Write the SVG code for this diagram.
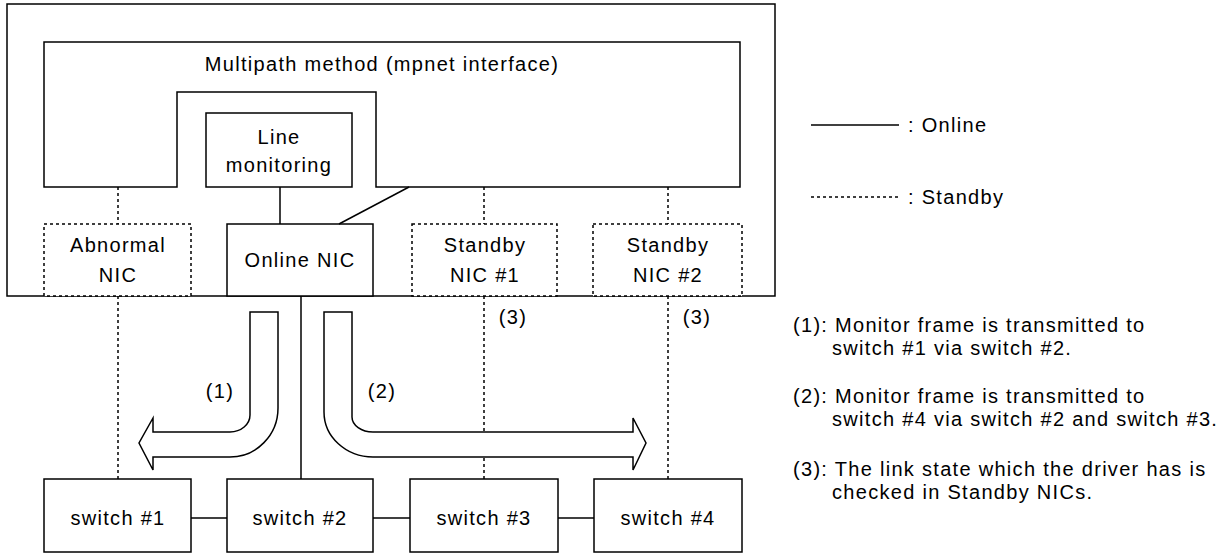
<svg xmlns="http://www.w3.org/2000/svg" width="1229" height="554" viewBox="0 0 1229 554">
<style>
  text { font-family: "Liberation Sans", Arial, sans-serif; font-size: 20px; letter-spacing: 1.3px; fill: #000; }
  .c { text-anchor: middle; }
  .solid { fill: #fff; stroke: #000; stroke-width: 1.5; }
  .dash { fill: #fff; stroke: #000; stroke-width: 1.5; stroke-dasharray: 3 3; }
  .ln { fill: none; stroke: #000; stroke-width: 1.5; }
  .dl { fill: none; stroke: #000; stroke-width: 1.5; stroke-dasharray: 3 3; }
</style>
<rect x="0" y="0" width="1229" height="554" fill="#fff"/>
<g id="host">
  <rect class="solid" x="7" y="4" width="768" height="292"/>
</g>
<g id="mpnet">
  <path class="solid" d="M44 42 H740 V187 H376 V92 H177 V187 H44 Z"/>
  <text class="c" x="382" y="71">Multipath method (mpnet interface)</text>
</g>
<g id="line-monitoring">
  <rect class="solid" x="206" y="113" width="146" height="74"/>
  <text class="c" x="279" y="144">Line</text>
  <text class="c" x="279" y="172">monitoring</text>
</g>
<g id="abnormal-nic">
  <rect class="dash" x="44" y="224" width="147" height="72"/>
  <text class="c" x="118" y="252">Abnormal</text>
  <text class="c" x="118" y="282">NIC</text>
</g>
<g id="online-nic">
  <rect class="solid" x="227" y="224" width="146" height="72"/>
  <text class="c" x="300" y="267">Online NIC</text>
</g>
<g id="standby-nic-1">
  <rect class="dash" x="412" y="224" width="145" height="72"/>
  <text class="c" x="485" y="252">Standby</text>
  <text class="c" x="485" y="282">NIC #1</text>
</g>
<g id="standby-nic-2">
  <rect class="dash" x="593" y="224" width="149" height="72"/>
  <text class="c" x="668" y="252">Standby</text>
  <text class="c" x="668" y="282">NIC #2</text>
</g>
<g id="switch-1">
  <rect class="solid" x="44" y="479" width="147" height="73"/>
  <text class="c" x="118" y="525">switch #1</text>
</g>
<g id="switch-2">
  <rect class="solid" x="227" y="479" width="146" height="73"/>
  <text class="c" x="300" y="525">switch #2</text>
</g>
<g id="switch-3">
  <rect class="solid" x="410" y="479" width="148" height="73"/>
  <text class="c" x="484" y="525">switch #3</text>
</g>
<g id="switch-4">
  <rect class="solid" x="594" y="479" width="148" height="73"/>
  <text class="c" x="668" y="525">switch #4</text>
</g>
<g id="connectors">
  <line class="ln" x1="280" y1="187" x2="280" y2="224"/>
  <line class="ln" x1="339" y1="224" x2="409" y2="187"/>
  <line class="dl" x1="118" y1="187" x2="118" y2="224"/>
  <line class="dl" x1="484" y1="187" x2="484" y2="224"/>
  <line class="dl" x1="668" y1="187" x2="668" y2="224"/>
  <line class="ln" x1="301" y1="296" x2="301" y2="479"/>
  <line class="dl" x1="118" y1="296" x2="118" y2="479"/>
  <line class="dl" x1="484" y1="296" x2="484" y2="479"/>
  <line class="dl" x1="668" y1="296" x2="668" y2="479"/>
  <line class="ln" x1="191" y1="518" x2="227" y2="518"/>
  <line class="ln" x1="373" y1="518" x2="410" y2="518"/>
  <line class="ln" x1="558" y1="518" x2="594" y2="518"/>
</g>
<g id="arrow-1">
  <path class="solid" d="M250 312 L278 312 L278 408 A48 49 0 0 1 230 457 L153 457 L153 470 L139 443 L153 418 L153 432 L230 432 A20 17 0 0 0 250 415 Z"/>
  <text class="c" x="220" y="398">(1)</text>
</g>
<g id="arrow-2">
  <path class="solid" d="M324 312 L352 312 L352 417 A21 15 0 0 0 373 432 L633 432 L633 418 L646 443 L633 470 L633 457 L373 457 A49 45 0 0 1 324 412 Z"/>
  <text class="c" x="382" y="398">(2)</text>
</g>
<g id="labels-3">
  <text class="c" x="513" y="324">(3)</text>
  <text class="c" x="697" y="324">(3)</text>
</g>
<g id="legend">
  <line class="ln" x1="811" y1="125" x2="899" y2="125"/>
  <text x="908" y="132">: Online</text>
  <line class="dl" x1="811" y1="197" x2="899" y2="197"/>
  <text x="908" y="204">: Standby</text>
</g>
<g id="notes">
  <text x="793" y="332">(1): Monitor frame is transmitted to</text>
  <text x="832" y="355">switch #1 via switch #2.</text>
  <text x="793" y="403">(2): Monitor frame is transmitted to</text>
  <text x="832" y="426">switch #4 via switch #2 and switch #3.</text>
  <text x="793" y="476">(3): The link state which the driver has is</text>
  <text x="832" y="499">checked in Standby NICs.</text>
</g>
</svg>
